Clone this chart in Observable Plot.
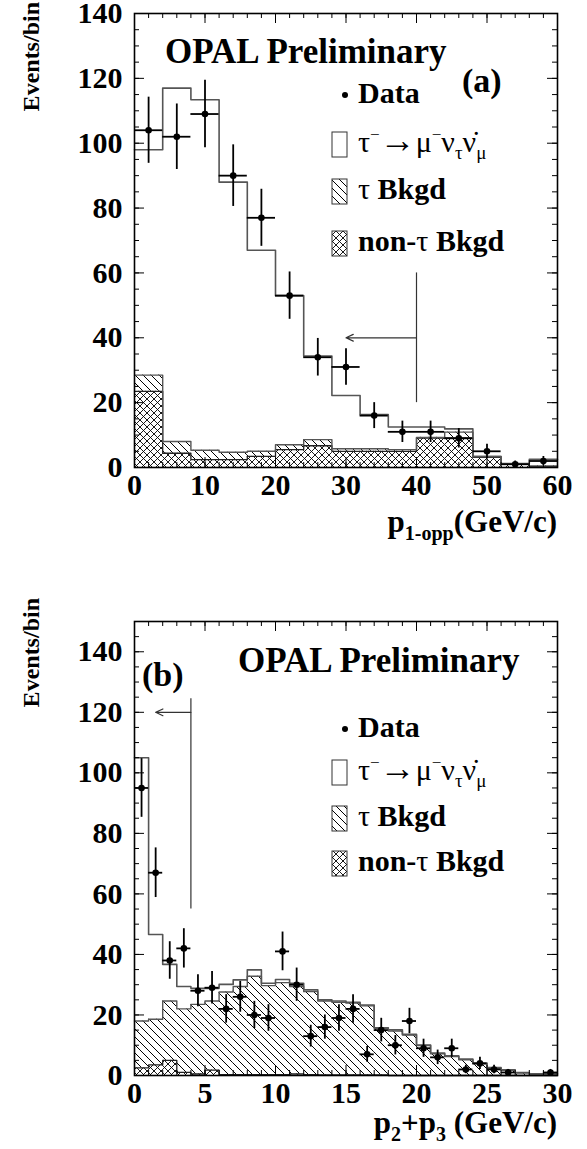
<!DOCTYPE html>
<html>
<head>
<meta charset="utf-8">
<script src="https://cdn.jsdelivr.net/npm/d3@7"></script>
<script src="https://cdn.jsdelivr.net/npm/@observablehq/plot@0.6"></script>
<style>
  body { margin: 0; background: #fff; }
  svg { display: block; }
</style>
</head>
<body>
<div id="chart"></div>
<script>
// ---------------- Panel (a): p_1-opp ----------------
const edgesA   = [0, 4, 8, 12, 16, 20, 24, 28, 32, 36, 40, 44, 48, 52, 56, 60];
const nonTauA  = [23.5, 4.4, 2.4, 2.4, 3.4, 5.5, 6.7, 5.0, 5.0, 5.0, 9.1, 9.1, 3.1, 1.0, 0.3];
const tauBkgA  = [5.0, 3.6, 2.9, 2.3, 1.6, 1.5, 1.9, 0.8, 0.8, 0.5, 0.2, 1.8, 0.3, 0.0, 0.2];
const signalA  = [69.5, 109, 108.1, 83.3, 62, 46, 25.8, 16.4, 10.5, 7.0, 3.2, 1.0, 0.0, 0.2, 2.0];
const dataA    = [104, 102, 109, 90, 77, 53, 34, 31, 16, 11, 11, 9, 5, 1, 2];
const errA     = [10.2, 10.1, 10.4, 9.5, 8.8, 7.3, 5.8, 5.6, 4.0, 3.3, 3.3, 3.0, 2.2, 1.0, 1.4];
const xTicksA  = [0, 10, 20, 30, 40, 50, 60];
const cutA     = {x: 40, yLow: 20, yHigh: 60, arrowY: 40, arrowTo: 30};

// ---------------- Panel (b): p2+p3 ----------------
const edgesB   = [0,1,2,3,4,5,6,7,8,9,10,11,12,13,14,15,16,17,18,19,20,21,22,23,24,25,26,27,28,29,30];
const nonTauB  = [2.5, 3.5, 5.0, 1.0, 0.5, 1.8, 0.3, 0.3, 0.3, 0.3, 0.3, 0.5, 0.3, 0.2, 0.2, 0.2, 0.2, 0.2, 0, 0, 0, 0, 0, 0, 0, 0, 0, 0, 0, 0];
const tauBkgB  = [15.5, 15.1, 19.6, 21.0, 23.0, 22.8, 27.3, 29.1, 32.5, 29.4, 30.4, 28.9, 27.4, 24.4, 24.0, 23.7, 22.8, 15.4, 14.7, 13.4, 9.9, 7.2, 6.3, 5.2, 3.9, 2.4, 1.7, 0.8, 0.4, 0.3];
const signalB  = [87.0, 28.0, 12.1, 7.4, 5.3, 4.2, 2.5, 2.2, 2.1, 0.8, 1.0, 1.1, 0.6, 0.4, 0.4, 0.3, 0.3, 0.2, 0.4, 0.2, 0.2, 0.2, 0.2, 0.2, 0.2, 0.2, 0.2, 0.2, 0.2, 0.3];
const dataB    = [95, 67, 38, 42, 28, 29, 22, 26, 20, 19, 41, 30, 13, 16, 19, 22, 7, 15, 10, 18, 9, 6, 9, 2, 4, 2, 1, null, null, 1];
const errB     = [9.7, 8.2, 6.2, 6.5, 5.3, 5.4, 4.7, 5.1, 4.5, 4.4, 6.4, 5.5, 3.6, 4.0, 4.4, 4.7, 2.6, 3.9, 3.2, 4.2, 3.0, 2.4, 3.0, 1.4, 2.0, 1.4, 1.0, null, null, 1.0];
const xTicksB  = [0, 5, 10, 15, 20, 25, 30];
const cutB     = {x: 4, yLow: 55, yHigh: 124.5, arrowY: 120, arrowTo: 1.5};

const yTicks   = [0, 20, 40, 60, 80, 100, 120, 140];

const W = 587;
const SERIF = "'Liberation Serif', 'Times New Roman', Times, serif";

function panel(cfg) {
  const {id, edges, nonTau, tauBkg, signal, data, err, xDomain, yDomain,
         xMajor, xMinorStep, height, mt, mb, cut} = cfg;
  const ml = 134, mr = 30;
  const pw = W - ml - mr, ph = height - mt - mb;
  const n = nonTau.length;
  const bins = d3.range(n).map(i => {
    const l1 = nonTau[i], l2 = l1 + tauBkg[i], l3 = l2 + signal[i];
    return {x1: edges[i], x2: edges[i + 1], xc: (edges[i] + edges[i + 1]) / 2,
            l1, l2, l3, d: data[i], e: err[i]};
  });
  const step = key => bins.map(b => ({x: b.x1, y: b[key]}))
                        .concat([{x: bins[n - 1].x2, y: bins[n - 1][key]}]);
  const pts = bins.filter(b => b.d != null);
  const xMinor = d3.range(xDomain[0], xDomain[1] + 1e-9, xMinorStep);
  const yMinor = d3.range(0, yDomain[1] + 1e-9, 5);

  const svg = Plot.plot({
    width: W, height,
    marginLeft: ml, marginRight: mr, marginTop: mt, marginBottom: mb,
    x: {domain: xDomain, label: null},
    y: {domain: yDomain, label: null},
    style: {fontFamily: SERIF, fontWeight: "bold", fontSize: "30px", background: "white", color: "black"},
    marks: [
      Plot.rect(bins, {x1: "x1", x2: "x2", y1: () => 0, y2: "l1", fill: `url(#cross-${id})`}),
      Plot.rect(bins, {x1: "x1", x2: "x2", y1: "l1", y2: "l2", fill: `url(#diag-${id})`}),
      Plot.line(step("l1"), {x: "x", y: "y", curve: "step-after", stroke: "#222", strokeWidth: 1.3}),
      Plot.line(step("l2"), {x: "x", y: "y", curve: "step-after", stroke: "#555", strokeWidth: 1.4}),
      Plot.line(step("l3"), {x: "x", y: "y", curve: "step-after", stroke: "#555", strokeWidth: 1.6}),
      Plot.ruleX([cut], {x: "x", y1: "yLow", y2: "yHigh", stroke: "#333", strokeWidth: 1.2}),
      Plot.arrow([cut], {x1: "x", x2: "arrowTo", y1: "arrowY", y2: "arrowY",
                         stroke: "#333", strokeWidth: 1.2, headLength: 10, headAngle: 50}),
      Plot.ruleX(pts, {x: "xc", y1: d => d.d - d.e, y2: d => d.d + d.e, stroke: "black", strokeWidth: 1.8}),
      Plot.ruleY(pts, {y: "d", x1: "x1", x2: "x2", stroke: "black", strokeWidth: 1.8}),
      Plot.dot(pts, {x: "xc", y: "d", r: 3.3, fill: "black"}),
      // inside ticks on all four sides
      Plot.tickX(xMinor, {x: d => d, insetTop: ph - 5, stroke: "black"}),
      Plot.tickX(xMinor, {x: d => d, insetBottom: ph - 5, stroke: "black"}),
      Plot.tickX(xMajor, {x: d => d, insetTop: ph - 10, stroke: "black"}),
      Plot.tickX(xMajor, {x: d => d, insetBottom: ph - 10, stroke: "black"}),
      Plot.tickY(yMinor, {y: d => d, insetRight: pw - 5, stroke: "black"}),
      Plot.tickY(yMinor, {y: d => d, insetLeft: pw - 5, stroke: "black"}),
      Plot.tickY(yTicks, {y: d => d, insetRight: pw - 10, stroke: "black"}),
      Plot.tickY(yTicks, {y: d => d, insetLeft: pw - 10, stroke: "black"}),
      Plot.frame({stroke: "black", strokeWidth: 1.6}),
      Plot.axisX(xMajor, {anchor: "bottom", tickSize: 0, tickPadding: 6, fontSize: 30,
                          fontWeight: "bold", tickFormat: d => String(d), label: null}),
      Plot.axisY(yTicks, {anchor: "left", tickSize: 0, tickPadding: 12, fontSize: 30,
                          fontWeight: "bold", tickFormat: d => String(d), label: null})
    ]
  });

  const s = d3.select(svg);
  const defs = s.insert("defs", ":first-child");
  const pd = defs.append("pattern").attr("id", `diag-${id}`)
    .attr("patternUnits", "userSpaceOnUse").attr("width", 8).attr("height", 8);
  pd.append("path").attr("d", "M0,0L8,8M-2,6L2,10M6,-2L10,2")
    .attr("stroke", "black").attr("stroke-width", 1).attr("fill", "none");
  const pc = defs.append("pattern").attr("id", `cross-${id}`)
    .attr("patternUnits", "userSpaceOnUse").attr("width", 7).attr("height", 7);
  pc.append("rect").attr("width", 7).attr("height", 7).attr("fill", "white");
  pc.append("path").attr("d", "M-1,-1L8,8M8,-1L-1,8")
    .attr("stroke", "black").attr("stroke-width", 0.9).attr("fill", "none");
  return svg;
}

function addText(g, x, y, parts, opts = {}) {
  const t = g.append("text").attr("x", x).attr("y", y)
    .attr("font-family", SERIF).attr("fill", "black")
    .attr("font-size", opts.size || 29).attr("font-weight", opts.weight || "bold")
    .attr("text-anchor", opts.anchor || "start");
  if (opts.transform) t.attr("transform", opts.transform).attr("x", 0).attr("y", 0);
  for (const p of (typeof parts === "string" ? [parts] : parts)) {
    const ts = t.append("tspan").text(p.t !== undefined ? p.t : p);
    if (p.size) ts.attr("font-size", p.size);
    if (p.weight) ts.attr("font-weight", p.weight);
    if (p.dy) ts.attr("dy", p.dy);
  }
  return t;
}

function annotate(svg, o) {
  const g = d3.select(svg).append("g");
  const Y = y => y - o.off;
  // Y axis title
  addText(g, 0, 0, "Events/bin", {size: 24, anchor: "end", transform: `translate(39,${Y(o.ytitleTop)}) rotate(-90)`});
  // OPAL + panel tag
  addText(g, o.opal[0], Y(o.opal[1]), "OPAL Preliminary", {size: 35});
  addText(g, o.tag[0], Y(o.tag[1]), o.tagText, {size: 34});
  // Legend
  g.append("circle").attr("cx", 345).attr("cy", Y(o.leg[0] - 8)).attr("r", 3).attr("fill", "black");
  addText(g, 358, Y(o.leg[0]), "Data", {size: 30});
  const boxes = [["white", o.leg[1]], [`url(#diag-${o.id})`, o.leg[2]], [`url(#cross-${o.id})`, o.leg[3]]];
  for (const [fill, base] of boxes) {
    g.append("rect").attr("x", 332).attr("y", Y(base - 20)).attr("width", 15).attr("height", 25)
      .attr("fill", fill).attr("stroke", "#333").attr("stroke-width", 1);
  }
  addText(g, 358, Y(o.leg[1]), [
    {t: "τ"}, {t: "−", size: 17, dy: -12}, {t: "→", size: 36, dy: 12}, {t: "μ"}, {t: "−", size: 17, dy: -12},
    {t: "ν", dy: 12}, {t: "τ", size: 19, dy: 7}, {t: "ν\u0307", dy: -7}, {t: "μ", size: 19, dy: 7}
  ], {size: 30, weight: "normal"});
  addText(g, 358, Y(o.leg[2]), [{t: "τ", weight: "normal"}, {t: " Bkgd"}], {size: 30});
  addText(g, 358, Y(o.leg[3]), [{t: "non-"}, {t: "τ", weight: "normal"}, {t: " Bkgd"}], {size: 30});
  // X axis title
  addText(g, 557, Y(o.xtitleBase), o.xtitle, {size: 31, anchor: "end"});
}

const root = document.getElementById("chart");

const svgA = panel({
  id: "a", edges: edgesA, nonTau: nonTauA, tauBkg: tauBkgA, signal: signalA,
  data: dataA, err: errA, xDomain: [0, 60], yDomain: [0, 140],
  xMajor: xTicksA, xMinorStep: 2, height: 574, mt: 13, mb: 107, cut: cutA
});
annotate(svgA, {
  id: "a", off: 0, ytitleTop: 2, opal: [165, 63], tag: [462, 92], tagText: "(a)",
  leg: [103, 152, 199, 251], xtitleBase: 532,
  xtitle: [{t: "p"}, {t: "1-opp", size: 20, dy: 8}, {t: "(GeV/c)", dy: -8}]
});
root.appendChild(svgA);

const svgB = panel({
  id: "b", edges: edgesB, nonTau: nonTauB, tauBkg: tauBkgB, signal: signalB,
  data: dataB, err: errB, xDomain: [0, 30], yDomain: [0, 150],
  xMajor: xTicksB, xMinorStep: 1, height: 575, mt: 47, mb: 74, cut: cutB
});
annotate(svgB, {
  id: "b", off: 574, ytitleTop: 598, opal: [238, 672], tag: [142, 686], tagText: "(b)",
  leg: [737, 780, 826, 871], xtitleBase: 1133,
  xtitle: [{t: "p"}, {t: "2", size: 20, dy: 8}, {t: "+p", dy: -8}, {t: "3", size: 20, dy: 8}, {t: " (GeV/c)", dy: -8}]
});
root.appendChild(svgB);
</script>
</body>
</html>
